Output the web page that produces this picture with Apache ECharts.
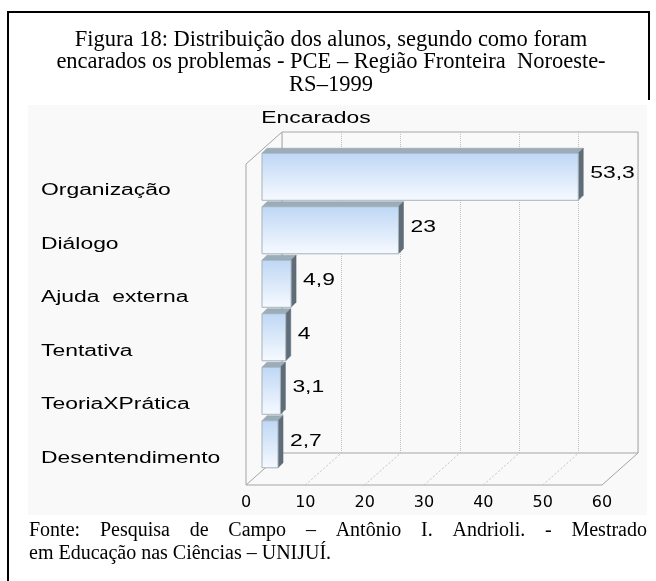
<!DOCTYPE html>
<html>
<head>
<meta charset="utf-8">
<script src="https://cdn.jsdelivr.net/npm/echarts@6/dist/echarts.min.js"></script>
<style>
  html, body { margin: 0; padding: 0; background: #fff; }
  #main { width: 656px; height: 581px; }
</style>
</head>
<body>
<div id="main"></div>
<script>
// dados
const titleLines = [
  'Figura 18: Distribuição dos alunos, segundo como foram',
  'encarados os problemas - PCE – Região Fronteira  Noroeste-',
  'RS–1999'
]
const footerLines = [
  'Fonte: Pesquisa de Campo – Antônio I. Andrioli. - Mestrado',
  'em Educação nas Ciências – UNIJUÍ.'
]
const seriesName = 'Encarados'
const categories = ['Organização', 'Diálogo', 'Ajuda  externa', 'Tentativa', 'TeoriaXPrática', 'Desentendimento']
const values = [53.3, 23, 4.9, 4, 3.1, 2.7]
const xTicks = [0, 10, 20, 30, 40, 50, 60]

// layout
const GRID = { left: 262, top: 150, width: 356, height: 321 }
const BACK = [20, -18]   // deslocamento da parede do fundo
const FRONT = [-16, 14]  // deslocamento do plano da frente
const SANS = '"Liberation Sans", Arial, sans-serif'
const SERIF = '"Liberation Serif", "Times New Roman", serif'
const STRETCH = 1.43     // texto do gráfico aparece esticado na horizontal
const LABEL_X = 41
const DEPTH = 5
const chartFont = '16px ' + SANS

const chart = echarts.init(document.getElementById('main'))

const shiftGrid = (d, extra) => Object.assign({
  left: GRID.left + d[0], top: GRID.top + d[1], width: GRID.width, height: GRID.height
}, extra || {})

// linha justificada do rodapé
const measure = document.createElement('canvas').getContext('2d')
function justifyLine (text, x0, x1, y, font) {
  measure.font = font
  const words = text.split(' ')
  const widths = words.map(w => measure.measureText(w).width)
  const total = widths.reduce((a, b) => a + b, 0)
  const gap = (x1 - x0 - total) / (words.length - 1)
  let x = x0
  return words.map((w, i) => {
    const el = {
      type: 'text', x: x, y: y,
      style: { text: w, font: font, fill: '#000', textAlign: 'left', textVerticalAlign: 'middle' }
    }
    x += widths[i] + gap
    return el
  })
}

const titleFont = '22.5px ' + SERIF
const footerFont = '20px ' + SERIF
const graphics = [
  { type: 'rect', z: -10, shape: { x: 28, y: 105, width: 619, height: 410 }, style: { fill: '#f9f9f9' } },
  { type: 'line', shape: { x1: 8, y1: 11, x2: 8, y2: 581 }, style: { stroke: '#000', lineWidth: 2 } },
  { type: 'line', shape: { x1: 7, y1: 12, x2: 650, y2: 12 }, style: { stroke: '#000', lineWidth: 2 } },
  { type: 'line', shape: { x1: 649, y1: 11, x2: 649, y2: 100 }, style: { stroke: '#000', lineWidth: 2 } },
  {
    type: 'text', x: 316, y: 119, scaleX: STRETCH,
    style: { text: seriesName, font: chartFont, fill: '#000', textAlign: 'center', textVerticalAlign: 'middle' }
  }
]
titleLines.forEach((t, i) => {
  graphics.push({
    type: 'text', x: 331, y: 40 + i * 22.5,
    style: { text: t, font: titleFont, fill: '#000', textAlign: 'center', textVerticalAlign: 'middle' }
  })
})
justifyLine(footerLines[0], 29, 647, 531, footerFont).forEach(el => graphics.push(el))
graphics.push({
  type: 'text', x: 29, y: 554,
  style: { text: footerLines[1], font: footerFont, fill: '#000', textAlign: 'left', textVerticalAlign: 'middle' }
})

// moldura 3D: parede esquerda e chão
function renderFrame (params, api) {
  const cs = params.coordSys
  const top = cs.y
  const bottom = cs.y + cs.height
  const xs = xTicks.map(t => api.coord([t, 0])[0])
  const x0 = xs[0]
  const xN = xs[xs.length - 1]
  const line = (a, b, dashed) => ({
    type: 'line',
    shape: { x1: a[0], y1: a[1], x2: b[0], y2: b[1] },
    style: { stroke: dashed ? '#c4c4c4' : '#a5a5a5', lineWidth: 1, lineDash: dashed ? [2, 2] : null }
  })
  const children = [
    line([x0 + FRONT[0], top + FRONT[1]], [x0 + FRONT[0], bottom + FRONT[1]]),
    line([x0 + FRONT[0], top + FRONT[1]], [x0 + BACK[0], top + BACK[1]]),
    line([x0 + FRONT[0], bottom + FRONT[1]], [xN + FRONT[0], bottom + FRONT[1]])
  ]
  xs.forEach((x, i) => {
    const edge = i === 0 || i === xs.length - 1
    children.push(line([x + FRONT[0], bottom + FRONT[1]], [x + BACK[0], bottom + BACK[1]], !edge))
  })
  return { type: 'group', children: children }
}

function renderBar (params, api) {
  const v = api.value(0)
  const idx = api.value(1)
  const p0 = api.coord([0, idx])
  const p1 = api.coord([v, idx])
  const band = api.size([0, 1])[1]
  const h = band * 0.88
  const y0 = p0[1] - h / 2
  const x0 = p0[0]
  const x1 = p1[0]
  const d = DEPTH
  return {
    type: 'group',
    children: [
      {
        type: 'polygon',
        shape: { points: [[x0, y0], [x1, y0], [x1 + d, y0 - d], [x0 + d, y0 - d]] },
        style: { fill: '#9badb9', stroke: '#8a9ba6', lineWidth: 0.5 }
      },
      {
        type: 'polygon',
        shape: { points: [[x1, y0], [x1 + d, y0 - d], [x1 + d, y0 + h - d], [x1, y0 + h]] },
        style: { fill: '#5f6d78', stroke: '#56636d', lineWidth: 0.5 }
      },
      {
        type: 'rect',
        shape: { x: x0, y: y0, width: x1 - x0, height: h },
        style: {
          fill: new echarts.graphic.LinearGradient(0, 0, 0, 1, [
            { offset: 0, color: '#bed7f5' },
            { offset: 1, color: '#f7faff' }
          ]),
          stroke: '#a7b1ba',
          lineWidth: 1
        }
      },
      {
        type: 'text', x: x1 + 12, y: p0[1] - 3, scaleX: STRETCH,
        style: {
          text: String(v).replace('.', ','), font: chartFont, fill: '#000',
          textAlign: 'left', textVerticalAlign: 'middle'
        }
      },
      {
        type: 'text', x: LABEL_X, y: p0[1] + FRONT[1], scaleX: STRETCH,
        style: {
          text: categories[idx], font: chartFont, fill: '#000',
          textAlign: 'left', textVerticalAlign: 'middle'
        }
      }
    ]
  }
}

const valueAxis = (gridIndex, extra) => Object.assign({
  type: 'value',
  gridIndex: gridIndex,
  min: xTicks[0],
  max: xTicks[xTicks.length - 1],
  interval: xTicks[1] - xTicks[0],
  axisLine: { show: false },
  axisTick: { show: false },
  axisLabel: { show: false },
  splitLine: { show: false }
}, extra || {})

const option = {
  animation: false,
  graphic: graphics,
  grid: [
    shiftGrid([0, 0]),
    shiftGrid(BACK, { show: true, borderColor: '#a5a5a5', borderWidth: 1, backgroundColor: 'transparent' }),
    shiftGrid(FRONT)
  ],
  xAxis: [
    valueAxis(0),
    valueAxis(1, { splitLine: { show: true, lineStyle: { color: '#c0c0c0', type: 'dotted', width: 1 } } }),
    valueAxis(2, {
      axisLabel: { show: true, margin: 10, color: '#000', fontSize: 16, fontFamily: 'DejaVu Sans' }
    })
  ],
  yAxis: [
    { type: 'category', gridIndex: 0, data: categories, inverse: true, show: false },
    { type: 'value', gridIndex: 1, show: false },
    { type: 'value', gridIndex: 2, show: false }
  ],
  series: [
    {
      type: 'custom',
      name: 'frame',
      xAxisIndex: 0,
      yAxisIndex: 0,
      data: [[0, 0]],
      renderItem: renderFrame,
      silent: true,
      z: 1
    },
    {
      type: 'custom',
      name: seriesName,
      xAxisIndex: 0,
      yAxisIndex: 0,
      data: values.map((v, i) => [v, i]),
      encode: { x: 0, y: 1 },
      renderItem: renderBar,
      z: 3
    }
  ]
}

chart.setOption(option)
window.addEventListener('resize', function () {
  chart.resize()
})
</script>
</body>
</html>
